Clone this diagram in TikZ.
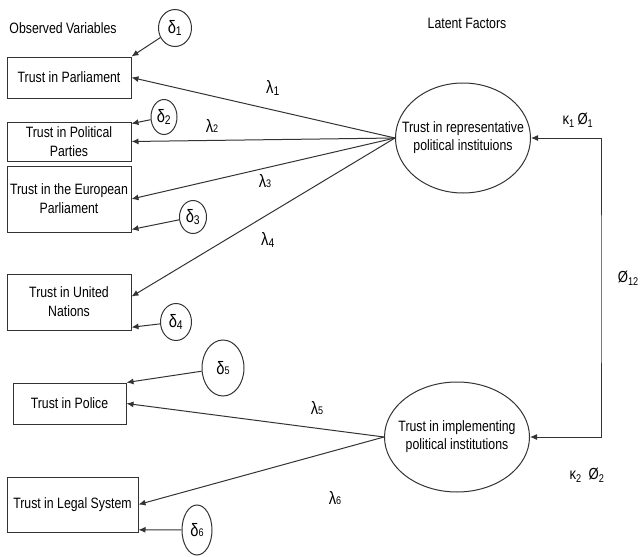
\documentclass[tikz,border=0pt]{standalone}
\usepackage{fontspec}
\setmainfont{Liberation Sans}[FakeStretch=0.82]
\usepackage{tikz}
\usetikzlibrary{arrows.meta,shapes.geometric}
\definecolor{edgegray}{HTML}{333333}
\newcommand{\idx}[1]{\textsubscript{#1}}
\newcommand{\flatidx}[1]{{\fontsize{11}{11}\selectfont #1}}
\tikzset{
  heading/.style={font=\fontsize{15}{18}\selectfont},
  obsbox/.style={draw=edgegray,line width=1pt,rectangle,align=center,inner sep=2pt,font=\fontsize{15}{19}\selectfont},
  latent/.style={draw=edgegray,line width=1pt,ellipse,align=center,inner xsep=-14pt,inner ysep=0pt,font=\fontsize{15}{18}\selectfont},
  errcirc/.style={draw=edgegray,line width=1pt,ellipse,inner sep=0pt,font=\fontsize{18}{20}\selectfont},
  coef/.style={font=\fontsize{18}{20}\selectfont},
  param/.style={font=\fontsize{16}{18}\selectfont},
  flow/.style={-{Latex[length=7pt,width=6pt]},line width=1pt,draw=edgegray},
  twoway/.style={{Latex[length=7pt,width=6pt]}-{Latex[length=7pt,width=6pt]},line width=1pt,draw=edgegray},
}

\begin{document}
\begin{tikzpicture}[x=1pt,y=-1pt]
    \useasboundingbox (0,0) rectangle (641,557);
    \node[heading] (obshead) at (63,28) {Observed Variables};
    \node[heading] (lathead) at (467,23) {Latent Factors};
    % observed variables
    \node[obsbox,minimum width=124pt,minimum height=41pt] (parl) at (69,77.5) {Trust in Parliament};
    \node[obsbox,minimum width=124pt,minimum height=39pt] (parties) at (69,141.5) {Trust in Political\\Parties};
    \node[obsbox,minimum width=124pt,minimum height=66pt] (europarl) at (69,199) {Trust in the European\\Parliament};
    \node[obsbox,minimum width=124pt,minimum height=56pt] (un) at (69,302) {Trust in United\\Nations};
    \node[obsbox,minimum width=113pt,minimum height=41pt] (police) at (69.5,403.5) {Trust in Police};
    \node[obsbox,minimum width=131pt,minimum height=55pt] (legal) at (72.5,504.5) {Trust in Legal System};
    % latent factors
    \node[latent,minimum width=135pt,minimum height=110pt] (repr) at (463,138) {Trust in representative\\political instituions};
    \node[latent,minimum width=145pt,minimum height=110pt] (impl) at (457,437) {Trust in implementing\\political institutions};
    % error terms
    \node[errcirc,minimum width=33pt,minimum height=37pt] (d1) at (175,28) {δ\idx{1}};
    \node[errcirc,minimum width=26pt,minimum height=35pt] (d2) at (164,117) {δ\idx{2}};
    \node[errcirc,minimum width=27pt,minimum height=33pt] (d3) at (193,217) {δ\idx{3}};
    \node[errcirc,minimum width=31pt,minimum height=37pt] (d4) at (176,322) {δ\idx{4}};
    \node[errcirc,minimum width=42pt,minimum height=56pt] (d5) at (223,368) {δ\flatidx{5}};
    \node[errcirc,minimum width=30pt,minimum height=50pt] (d6) at (197,530) {δ\flatidx{6}};
    \draw[flow] (d1) -- (parl.north east);
    \draw[flow] (d2) -- (parties.16);
    \draw[flow] (d3) -- (europarl.-26);
    \draw[flow] (d4) -- (un.-22);
    \draw[flow] (d5) -- (police.north east);
    \draw[flow] (d6) -- (legal.-21);
    % loadings
    \draw[flow] (repr.west) -- (parl.east);
    \draw[flow] (repr.west) -- (parties.east);
    \draw[flow] (repr.west) -- (europarl.east);
    \draw[flow] (repr.west) -- (un.5);
    \draw[flow] (impl.west) -- (police.east);
    \draw[flow] (impl.west) -- (legal.east);
    \node[coef] (l1) at (273,88) {λ\idx{1}};
    \node[coef] (l2) at (212,126) {λ\flatidx{2}};
    \node[coef] (l3) at (265,181) {λ\flatidx{3}};
    \node[coef] (l4) at (268,240) {λ\idx{4}};
    \node[coef] (l5) at (317,408) {λ\flatidx{5}};
    \node[coef] (l6) at (335,498) {λ\flatidx{6}};
    % covariance
    \coordinate (covbend) at (601,290);
    \draw[twoway] (repr.east) -| (covbend) |- (impl.east);
    \node[param] (k1) at (578,120) {κ\idx{1}\,Ø\idx{1}};
    \node[param,anchor=east,inner sep=1pt] (phi12) at (640,278) {Ø\idx{12}};
    \node[param] (k2) at (587,475) {κ\idx{2}\hspace{7pt}Ø\idx{2}};
\end{tikzpicture}
\end{document}
